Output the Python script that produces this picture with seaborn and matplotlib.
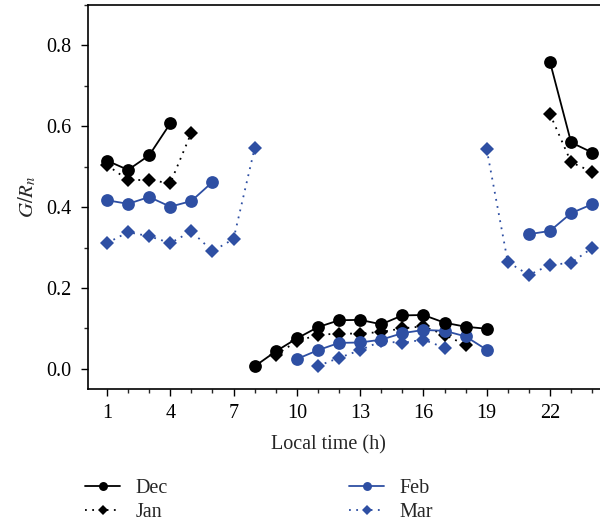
import numpy as np
import pandas as pd
import matplotlib
matplotlib.use("Agg")
import matplotlib.pyplot as plt
from matplotlib.lines import Line2D
from matplotlib.ticker import MultipleLocator
import seaborn as sns

nan = np.nan
hours = list(range(1, 25))

# G/Rn ratio per hour (nan = no value)
dec = [0.515, 0.492, 0.528, 0.607, nan, nan, nan, 0.006, 0.043, 0.075, 0.103, 0.120,
       0.121, 0.110, 0.132, 0.133, 0.114, 0.104, 0.099, nan, nan, 0.759, 0.560, 0.535]
jan = [0.504, 0.467, 0.467, 0.459, 0.584, nan, nan, nan, 0.034, 0.068, 0.084, 0.087,
       0.087, 0.091, 0.100, 0.105, 0.084, 0.059, nan, nan, nan, 0.630, 0.511, 0.487]
feb = [0.417, 0.408, 0.425, 0.401, 0.415, 0.462, nan, nan, nan, 0.024, 0.046, 0.064,
       0.065, 0.072, 0.088, 0.096, 0.094, 0.080, 0.047, nan, 0.333, 0.341, 0.385, 0.407]
mar = [0.311, 0.338, 0.328, 0.311, 0.340, 0.291, 0.321, 0.546, nan, nan, 0.007, 0.027,
       0.046, 0.068, 0.064, 0.072, 0.052, nan, 0.543, 0.264, 0.232, 0.257, 0.262, 0.299]

months = ["Dec", "Jan", "Feb", "Mar"]
xticks = [1, 4, 7, 10, 13, 16, 19, 22]

black = "#000000"
blue = "#2e4fa3"
dotted = (0, (1, 3))
styles = {
    "Dec": dict(color=black, marker="o", ls="-", ms=9.2),
    "Jan": dict(color=black, marker="D", ls=dotted, ms=7.6),
    "Feb": dict(color=blue, marker="o", ls="-", ms=9.2),
    "Mar": dict(color=blue, marker="D", ls=dotted, ms=7.6),
}


def to_frame(name, vals):
    df = pd.DataFrame({"hour": hours, "value": vals})
    # segment id changes after every gap so lines break there
    df["seg"] = df["value"].isna().cumsum()
    df["month"] = name
    return df.dropna()


data = {m: to_frame(m, v) for m, v in zip(months, [dec, jan, feb, mar])}

sns.set_style("ticks")
plt.rcParams["font.family"] = ["Liberation Serif", "DejaVu Serif"]
plt.rcParams["mathtext.fontset"] = "stix"

fig = plt.figure(figsize=(6, 5.26), dpi=100)
ax = fig.add_axes([0.147, 0.2605, 0.853, 0.73])

for m in ["Mar", "Jan", "Feb", "Dec"]:
    st = styles[m]
    sns.lineplot(data=data[m], x="hour", y="value", units="seg", estimator=None,
                 color=st["color"], linestyle=st["ls"], linewidth=1.3,
                 marker=st["marker"], markersize=st["ms"], markeredgewidth=0,
                 ax=ax, legend=False)

ax.set_xlim(0.11, 24.37)
ax.set_ylim(-0.05, 0.9)
ax.set_xticks(xticks)
ax.xaxis.set_minor_locator(MultipleLocator(1))
ax.set_yticks([0.0, 0.2, 0.4, 0.6, 0.8])
ax.set_yticklabels(["0.0", "0.2", "0.4", "0.6", "0.8"])
ax.yaxis.set_minor_locator(MultipleLocator(0.1))
ax.tick_params(which="major", direction="out", length=5, width=1, labelsize=14.5, colors="black")
ax.tick_params(which="minor", direction="out", length=3, width=1)
ax.tick_params(axis="y", which="major", pad=7)
ax.tick_params(axis="x", which="major", pad=6)
for s in ["left", "bottom", "top"]:
    ax.spines[s].set_linewidth(1.2)
    ax.spines[s].set_color("black")
ax.spines["right"].set_visible(False)

ax.set_xlabel("Local time (h)", fontsize=14.5)
ax.xaxis.set_label_coords(0.469, -0.12)
ax.set_ylabel("$G/R_n$", fontsize=15, labelpad=6)

handles = [Line2D([0], [0], color=styles[m]["color"], ls=styles[m]["ls"], lw=1.3,
                  marker=styles[m]["marker"], ms=styles[m]["ms"] * 0.7, mew=0)
           for m in months]
fig.legend(handles, months, ncol=2, loc="upper left", bbox_to_anchor=(0.142, 0.09),
           frameon=False, fontsize=14.5, handlelength=1.75, columnspacing=9.0,
           labelspacing=0.28, handletextpad=0.75, borderaxespad=0, borderpad=0)

fig.savefig("out.png", dpi=100)
